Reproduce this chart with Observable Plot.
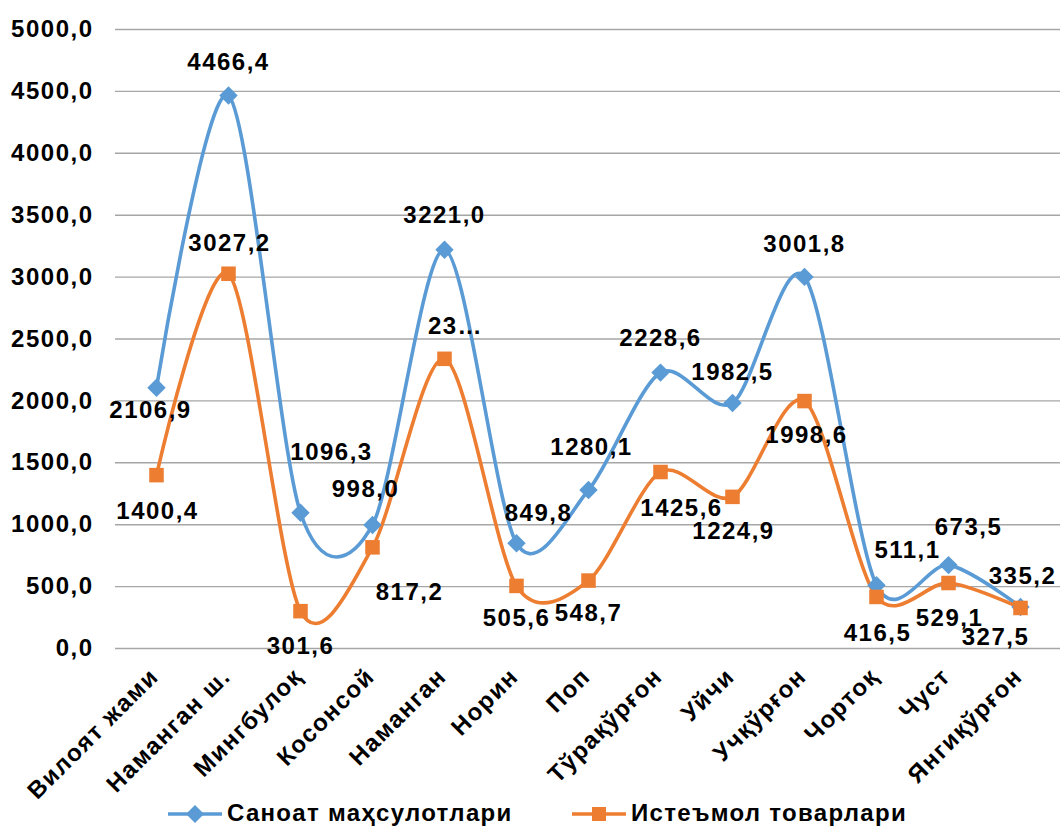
<!DOCTYPE html>
<html>
<head>
<meta charset="utf-8">
<script src="https://cdn.jsdelivr.net/npm/d3@7"></script>
<script src="https://cdn.jsdelivr.net/npm/@observablehq/plot@0.6"></script>
<style>
  html, body { margin: 0; padding: 0; background: #fff; }
  body { width: 1060px; height: 831px; overflow: hidden; font-family: "Liberation Sans", Arial, sans-serif; }
  #chart svg { display: block; }
  #chart svg text { letter-spacing: 1.5px; }
  #legend { position: relative; height: 36px; font-weight: bold; font-size: 24px; letter-spacing: 1.3px; color: #000; }
  .item { position: absolute; top: 0; display: flex; align-items: center; height: 36px; }
  .item svg { display: block; margin-right: 5px; }
</style>
</head>
<body>
<div id="chart"></div>
<div id="legend"></div>
<script>
const categories = ["Вилоят жами", "Наманган ш.", "Мингбулоқ", "Косонсой", "Наманган", "Норин", "Поп", "Тўрақўрғон", "Уйчи", "Учқўрғон", "Чортоқ", "Чуст", "Янгиқўрғон"];
const seriesNames = ["Саноат маҳсулотлари", "Истеъмол товарлари"];
const sanoat = [2106.9, 4466.4, 1096.3, 998.0, 3221.0, 849.8, 1280.1, 2228.6, 1982.5, 3001.8, 511.1, 673.5, 335.2];
const istemol = [1400.4, 3027.2, 301.6, 817.2, 2340.0, 505.6, 548.7, 1425.6, 1224.9, 1998.6, 416.5, 529.1, 327.5];
const istemolLabels = ["1400,4", "3027,2", "301,6", "817,2", "23…", "505,6", "548,7", "1425,6", "1224,9", "1998,6", "416,5", "529,1", "327,5"];
const yTicks = [0, 500, 1000, 1500, 2000, 2500, 3000, 3500, 4000, 4500, 5000];

// label placement offsets (layout, px)
const sanoatLabelOffset = [[-6,23],[0,-33],[31,-60],[-7,-36],[0,-34],[22,-30],[3,-43],[0,-34],[0,-31],[0,-33],[31,-35],[20,-38],[2,-31]];
const istemolLabelOffset = [[1,36],[1,-30],[0,35],[37,45],[11,-32],[0,32],[0,33],[21,36],[1,34],[2,34],[1,36],[1,35],[-25,29]];

const colors = ["#5B9BD5", "#ED7D31"];
const fmt = v => v.toFixed(1).replace(".", ",");

const sData = categories.map((c, i) => ({cat: c, v: sanoat[i], label: fmt(sanoat[i]), off: sanoatLabelOffset[i]}));
const iData = categories.map((c, i) => ({cat: c, v: istemol[i], label: istemolLabels[i], off: istemolLabelOffset[i]}));

const font = {fontSize: 24, fontWeight: "bold", fill: "#000"};

const labelMarks = [...sData, ...iData].map(d =>
  Plot.text([d], {x: "cat", y: "v", text: "label", dx: d.off[0], dy: d.off[1], ...font})
);

const chart = Plot.plot({
  width: 1060,
  height: 795,
  marginLeft: 115,
  marginRight: 0,
  marginTop: 29,
  marginBottom: 147,
  style: {fontFamily: "'Liberation Sans', Arial, sans-serif", background: "#fff", overflow: "visible"},
  x: {type: "point", domain: categories, padding: 0.5, label: null},
  y: {domain: [0, 5000], label: null},
  marks: [
    Plot.ruleY(yTicks, {stroke: "#a6a6a6", strokeWidth: 1.4}),
    Plot.axisY({ticks: yTicks, tickSize: 0, tickPadding: 22, tickFormat: fmt, fontSize: 24, fontWeight: "bold", fill: "#000", label: null}),
    Plot.axisX({tickSize: 0, tickPadding: 24, tickRotate: -45, fontSize: 24, fontWeight: "bold", fill: "#000", dx: -2, label: null}),
    Plot.line(sData, {x: "cat", y: "v", stroke: colors[0], strokeWidth: 3.6, curve: "cardinal", tension: 0.12}),
    Plot.line(iData, {x: "cat", y: "v", stroke: colors[1], strokeWidth: 3.6, curve: "cardinal", tension: 0.12}),
    Plot.dot(sData, {x: "cat", y: "v", symbol: "diamond2", r: 8.3, fill: colors[0], stroke: null}),
    Plot.dot(iData, {x: "cat", y: "v", symbol: "square", r: 8.2, fill: colors[1], stroke: null}),
    ...labelMarks
  ]
});
document.getElementById("chart").appendChild(chart);

// legend
const legend = document.getElementById("legend");
const swatch = (i) => {
  const shape = i === 0
    ? `<path d="M27,10 L36,19 L27,28 L18,19 Z" fill="${colors[0]}"/>`
    : `<rect x="20" y="12" width="14" height="14" fill="${colors[1]}"/>`;
  return `<svg width="54" height="36"><line x1="0" x2="54" y1="19" y2="19" stroke="${colors[i]}" stroke-width="3.5"/>${shape}</svg>`;
};
const lefts = [168, 572];
seriesNames.forEach((name, i) => {
  const div = document.createElement("div");
  div.className = "item";
  div.style.left = lefts[i] + "px";
  div.innerHTML = swatch(i) + `<span>${name}</span>`;
  legend.appendChild(div);
});
</script>
</body>
</html>
